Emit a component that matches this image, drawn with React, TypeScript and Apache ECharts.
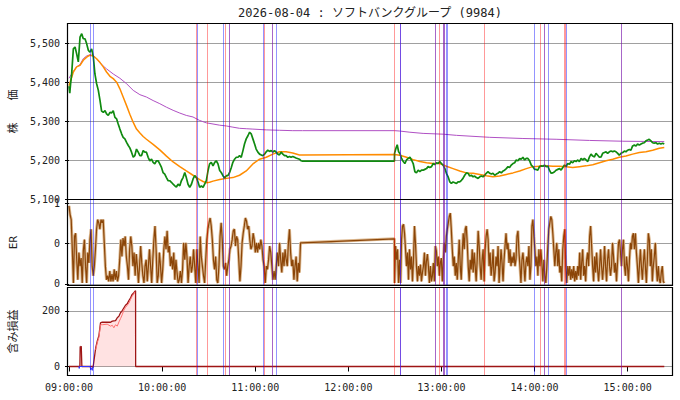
import React, { useEffect, useRef } from "react";
import * as echarts from "echarts";

const TITLE = "2026-08-04 : ソフトバンクグループ (9984)";
const X_MIN = 0;
const X_MAX = 388.9; // minutes after 09:00
const timeTickLabels = ["09:00:00", "10:00:00", "11:00:00", "12:00:00", "13:00:00", "14:00:00", "15:00:00"];
const erTickValues = [0, 0.5, 1];
const erTickLabels = ["0", "0", "1"];
const pnlTickValues = [0, 200];

// price (minutes after 09:00, yen)
const priceAM: [number, number][] = [
  [0, 5390], [0.5, 5372], [1.0, 5395], [1.7, 5420], [2.8, 5485], [3.9, 5490], [4.9, 5473], [6.0, 5452], [7.1, 5515], [8.2, 5524],
  [9.2, 5511], [10.3, 5511], [11.4, 5498], [12.5, 5481], [13.5, 5477], [14.6, 5485], [15.7, 5464], [16.7, 5421], [17.8, 5396], [18.9, 5379],
  [20.0, 5353], [21.0, 5326], [22.1, 5323], [23.2, 5327], [24.2, 5319], [25.3, 5315], [26.4, 5323], [27.4, 5321], [28.5, 5327], [29.6, 5310],
  [30.7, 5306], [31.7, 5293], [32.8, 5280], [33.9, 5268], [34.9, 5259], [36.0, 5255], [37.1, 5246], [38.2, 5238], [39.2, 5232], [40.3, 5221],
  [41.4, 5208], [42.4, 5212], [43.5, 5229], [44.6, 5221], [45.7, 5212], [46.7, 5212], [47.8, 5225], [48.9, 5221], [49.9, 5221], [51.0, 5208],
  [52.1, 5199], [53.2, 5203], [54.2, 5195], [55.3, 5191], [56.4, 5199], [57.4, 5199], [58.5, 5191], [59.6, 5182], [60.6, 5169], [61.7, 5165],
  [62.8, 5156], [63.9, 5148], [64.9, 5148], [66.0, 5144], [67.1, 5139], [68.2, 5135], [69.2, 5132], [70.3, 5139], [71.4, 5135], [72.4, 5148],
  [73.5, 5156], [74.6, 5169], [75.6, 5156], [76.7, 5139], [77.8, 5131], [78.9, 5139], [79.9, 5152], [81.0, 5161], [82.1, 5156], [83.2, 5144],
  [84.2, 5131], [85.3, 5135], [86.4, 5131], [87.4, 5139], [88.5, 5148], [89.6, 5174], [90.6, 5191], [91.7, 5195], [92.8, 5186], [93.9, 5195],
  [94.9, 5199], [96.0, 5191], [97.1, 5174], [98.1, 5169], [99.2, 5161], [100.3, 5155], [101.4, 5161], [102.4, 5161], [103.5, 5169], [104.6, 5182],
  [105.6, 5195], [106.7, 5203], [107.8, 5208], [108.9, 5208], [109.9, 5212], [111.0, 5208], [112.1, 5225], [113.1, 5242], [114.2, 5255], [115.3, 5263],
  [116.4, 5272], [117.4, 5268], [118.5, 5255], [119.6, 5242], [120.6, 5229], [121.7, 5221], [122.8, 5216], [123.9, 5214], [124.9, 5212], [126.0, 5216],
  [127.1, 5222], [128.1, 5226], [129.2, 5223], [130.3, 5225], [131.4, 5221], [132.4, 5225], [133.5, 5221], [134.6, 5216], [135.6, 5214], [136.7, 5221],
  [137.8, 5216], [138.9, 5212], [139.9, 5212], [141.0, 5208], [142.1, 5210], [143.1, 5208], [144.2, 5210], [145.3, 5208], [146.3, 5206], [148.5, 5203],
  [149.6, 5199], [150.5, 5198],
];
const priceLunch: [number, number][] = [[209.7, 5198]];
const pricePM: [number, number][] = [
  [209.8, 5218], [210.7, 5231], [211.5, 5240], [212.4, 5222], [213.2, 5218], [214.3, 5205], [215.4, 5197], [216.4, 5192], [217.5, 5201], [218.6, 5205],
  [219.7, 5208], [220.7, 5201], [221.8, 5192], [222.9, 5171], [223.9, 5168], [225.0, 5175], [226.1, 5171], [227.2, 5175], [228.2, 5175], [229.3, 5177],
  [230.4, 5179], [231.4, 5184], [232.5, 5182], [233.6, 5184], [234.7, 5192], [235.7, 5189], [236.8, 5194], [237.9, 5192], [238.9, 5197], [240.0, 5192],
  [241.1, 5188], [242.2, 5179], [243.2, 5167], [244.3, 5158], [245.4, 5145], [246.4, 5141], [247.5, 5145], [248.6, 5143], [249.7, 5141], [250.7, 5145],
  [251.8, 5145], [252.9, 5149], [253.9, 5154], [255.0, 5162], [256.1, 5168], [257.2, 5167], [258.2, 5160], [259.3, 5162], [260.4, 5158], [261.4, 5160],
  [262.5, 5156], [263.6, 5154], [264.7, 5158], [265.7, 5160], [266.8, 5158], [267.9, 5162], [268.9, 5167], [270.0, 5171], [271.1, 5167], [272.2, 5165],
  [273.2, 5167], [274.3, 5162], [275.4, 5165], [276.4, 5167], [277.5, 5171], [278.6, 5168], [279.7, 5173], [280.7, 5175], [281.8, 5179], [282.9, 5184],
  [283.9, 5182], [285.0, 5188], [286.1, 5192], [287.2, 5194], [288.2, 5201], [289.3, 5199], [290.4, 5205], [291.4, 5203], [292.5, 5208], [293.6, 5201],
  [294.7, 5205], [295.7, 5205], [296.8, 5199], [297.9, 5188], [298.9, 5184], [300.0, 5177], [301.1, 5177], [302.1, 5175], [303.2, 5184], [304.3, 5186],
  [305.4, 5185], [306.4, 5188], [307.5, 5184], [308.6, 5185], [309.6, 5175], [310.7, 5167], [311.8, 5168], [312.9, 5171], [313.9, 5175], [315.0, 5177],
  [316.1, 5179], [317.1, 5175], [318.2, 5182], [319.3, 5188], [320.4, 5185], [321.4, 5192], [322.5, 5190], [323.6, 5197], [324.6, 5194], [325.7, 5199],
  [326.8, 5197], [327.9, 5201], [328.9, 5197], [330.0, 5205], [331.1, 5201], [332.1, 5205], [333.2, 5201], [334.3, 5197], [335.4, 5209], [336.4, 5216],
  [337.5, 5211], [338.6, 5209], [339.6, 5218], [340.7, 5213], [341.8, 5208], [342.9, 5209], [343.9, 5218], [345.0, 5220], [346.1, 5222], [347.1, 5218],
  [348.2, 5222], [349.3, 5224], [350.4, 5222], [351.4, 5224], [352.5, 5222], [353.6, 5218], [354.6, 5213], [355.7, 5218], [356.8, 5220], [357.9, 5224],
  [358.9, 5222], [360.0, 5226], [361.1, 5228], [362.1, 5226], [363.2, 5237], [364.3, 5239], [365.4, 5237], [366.4, 5242], [367.5, 5239], [368.6, 5242],
  [369.6, 5244], [370.7, 5245], [371.8, 5250], [372.9, 5252], [373.9, 5254], [375.0, 5250], [376.1, 5245], [377.1, 5244], [378.2, 5245], [379.3, 5242],
  [380.4, 5244], [381.4, 5242], [382.5, 5244], [383.6, 5242],
];

// smoothed average (orange)
const emaLine: [number, number][] = [
  [0, 5391], [2.8, 5426], [4.9, 5439], [7.1, 5443], [9.2, 5456], [11.4, 5464], [13.5, 5469], [15.7, 5467], [17.8, 5460], [20.0, 5450],
  [22.1, 5439], [24.2, 5426], [26.4, 5415], [28.5, 5409], [30.7, 5400], [32.8, 5383], [34.9, 5362], [37.1, 5340], [39.2, 5318], [41.4, 5297],
  [43.5, 5280], [45.7, 5270], [47.8, 5261], [49.9, 5254], [54.2, 5241], [58.5, 5227], [62.8, 5211], [67.1, 5196], [71.4, 5184], [75.6, 5173],
  [79.9, 5162], [84.2, 5151], [86.4, 5146], [88.5, 5143], [90.6, 5144], [92.8, 5147], [97.1, 5151], [101.4, 5154], [105.6, 5156], [109.9, 5162],
  [114.2, 5173], [118.5, 5191], [122.8, 5203], [127.1, 5208], [131.4, 5216], [135.6, 5222], [139.9, 5222], [144.2, 5219], [148.5, 5214], [150.5, 5214],
  [209.8, 5215], [213.2, 5213], [217.5, 5208], [221.8, 5202], [226.1, 5197], [230.4, 5194], [234.7, 5192], [238.9, 5192], [243.2, 5185], [247.5, 5179],
  [251.8, 5173], [256.1, 5168], [260.4, 5167], [264.7, 5164], [268.9, 5161], [273.2, 5158], [277.5, 5160], [281.8, 5164], [286.1, 5168], [290.4, 5173],
  [294.7, 5179], [298.9, 5184], [303.2, 5185], [307.5, 5186], [311.8, 5185], [316.1, 5185], [320.4, 5184], [324.6, 5182], [328.9, 5184], [333.2, 5186],
  [337.5, 5189], [341.8, 5194], [346.1, 5199], [350.4, 5203], [354.6, 5208], [358.9, 5211], [363.2, 5216], [367.5, 5220], [371.8, 5222], [376.1, 5226],
  [380.4, 5231], [383.6, 5233],
];

// volume-weighted average (purple)
const vwapLine: [number, number][] = [
  [0, 5410], [2.8, 5428], [4.9, 5439], [7.1, 5445], [9.2, 5460], [11.4, 5467], [13.5, 5470], [15.7, 5468], [17.8, 5460], [20.0, 5450],
  [22.1, 5441], [24.2, 5434], [28.5, 5421], [32.8, 5410], [37.1, 5396], [41.4, 5379], [45.7, 5368], [49.9, 5362], [54.2, 5353], [58.5, 5345],
  [62.8, 5336], [67.1, 5328], [71.4, 5321], [75.6, 5315], [79.9, 5311], [84.2, 5302], [88.5, 5296], [92.8, 5293], [97.1, 5290], [101.4, 5288],
  [105.6, 5285], [109.9, 5282], [114.2, 5281], [118.5, 5280], [127.1, 5278], [135.6, 5277], [144.2, 5276], [150.5, 5276], [209.8, 5276], [213.2, 5275],
  [219.7, 5272], [228.2, 5269], [241.1, 5267], [249.7, 5264], [271.1, 5259], [292.5, 5256], [313.9, 5254], [335.4, 5251], [356.8, 5249], [383.6, 5248],
];

// ER, sampled evenly over each session
const erAMStart = 0;
const erAMEnd = 149.2;
const erAM: number[] = [
  0.97, 0.86, 0.80, 0.43, 0.01, 0.59, 0.63, 0.30, 0.05, 0.39,
  0.22, 0.32, 0.01, 0.41, 0.55, 0.22, 0.01, 0.39, 0.26, 0.55,
  0.68, 0.22, 0.10, 0.22, 0.43, 0.68, 0.80, 0.76, 0.68, 0.80,
  0.76, 0.80, 0.51, 0.22, 0.05, 0.10, 0.03, 0.16, 0.03, 0.12,
  0.03, 0.18, 0.05, 0.16, 0.03, 0.10, 0.30, 0.55, 0.34, 0.57,
  0.47, 0.59, 0.34, 0.22, 0.05, 0.43, 0.59, 0.47, 0.22, 0.39,
  0.10, 0.37, 0.22, 0.01, 0.22, 0.47, 0.26, 0.10, 0.01, 0.22,
  0.30, 0.03, 0.22, 0.43, 0.22, 0.01, 0.30, 0.55, 0.72, 0.43,
  0.01, 0.10, 0.39, 0.22, 0.01, 0.18, 0.43, 0.59, 0.43, 0.66,
  0.39, 0.47, 0.22, 0.34, 0.18, 0.39, 0.05, 0.30, 0.14, 0.01,
  0.05, 0.16, 0.01, 0.18, 0.51, 0.30, 0.51, 0.34, 0.01, 0.22,
  0.34, 0.14, 0.22, 0.43, 0.22, 0.01, 0.43, 0.22, 0.01, 0.59,
  0.34, 0.22, 0.10, 0.01, 0.30, 0.55, 0.68, 0.76, 0.82, 0.72,
  0.55, 0.30, 0.18, 0.34, 0.05, 0.01, 0.22, 0.59, 0.76, 0.55,
  0.22, 0.18, 0.26, 0.10, 0.22, 0.30, 0.43, 0.47, 0.55, 0.66,
  0.68, 0.47, 0.59, 0.55, 0.30, 0.03, 0.22, 0.51, 0.63, 0.72,
  0.82, 0.78, 0.68, 0.72, 0.55, 0.43, 0.47, 0.63, 0.55, 0.39,
  0.51, 0.39, 0.51, 0.43, 0.55, 0.47, 0.30, 0.22, 0.01, 0.22,
  0.18, 0.30, 0.47, 0.39, 0.22, 0.05, 0.16, 0.05, 0.22, 0.39,
  0.22, 0.51, 0.30, 0.14, 0.39, 0.22, 0.43, 0.30, 0.22, 0.51,
  0.68, 0.39, 0.22, 0.30, 0.05, 0.22, 0.34, 0.03, 0.26, 0.14,
  0.51,
];
const erLunch: [number, number][] = [[150.0, 0.51], [209.7, 0.56]];
const erPMStart = 209.8;
const erPMEnd = 383.6;
const erPM: number[] = [
  0.01, 0.47, 0.30, 0.43, 0.01, 0.30, 0.01, 0.55, 0.72, 0.74,
  0.63, 0.43, 0.22, 0.39, 0.05, 0.43, 0.18, 0.34, 0.03, 0.30,
  0.72, 0.51, 0.22, 0.03, 0.22, 0.10, 0.24, 0.03, 0.14, 0.22,
  0.39, 0.10, 0.28, 0.37, 0.22, 0.01, 0.22, 0.03, 0.10, 0.26,
  0.03, 0.47, 0.41, 0.22, 0.34, 0.10, 0.26, 0.32, 0.03, 0.30,
  0.51, 0.39, 0.59, 0.68, 0.76, 0.84, 0.88, 0.68, 0.43, 0.22,
  0.34, 0.10, 0.26, 0.05, 0.30, 0.55, 0.22, 0.05, 0.39, 0.63,
  0.43, 0.68, 0.72, 0.51, 0.22, 0.03, 0.30, 0.18, 0.43, 0.14,
  0.39, 0.22, 0.03, 0.30, 0.66, 0.47, 0.22, 0.05, 0.30, 0.43,
  0.03, 0.43, 0.59, 0.68, 0.55, 0.22, 0.39, 0.10, 0.22, 0.43,
  0.03, 0.14, 0.34, 0.22, 0.47, 0.01, 0.22, 0.43, 0.26, 0.03,
  0.30, 0.47, 0.63, 0.43, 0.51, 0.26, 0.43, 0.22, 0.34, 0.26,
  0.39, 0.22, 0.30, 0.59, 0.66, 0.39, 0.22, 0.01, 0.30, 0.39,
  0.22, 0.03, 0.26, 0.34, 0.22, 0.47, 0.05, 0.22, 0.72, 0.80,
  0.59, 0.43, 0.22, 0.34, 0.10, 0.43, 0.22, 0.43, 0.26, 0.03,
  0.30, 0.10, 0.01, 0.22, 0.47, 0.68, 0.76, 0.84, 0.80, 0.63,
  0.43, 0.22, 0.39, 0.51, 0.22, 0.43, 0.14, 0.22, 0.03, 0.43,
  0.59, 0.68, 0.22, 0.01, 0.22, 0.10, 0.22, 0.05, 0.18, 0.07,
  0.22, 0.03, 0.16, 0.05, 0.22, 0.10, 0.39, 0.05, 0.26, 0.43,
  0.10, 0.22, 0.03, 0.30, 0.39, 0.22, 0.59, 0.72, 0.47, 0.22,
  0.03, 0.34, 0.14, 0.39, 0.18, 0.03, 0.22, 0.43, 0.22, 0.05,
  0.22, 0.47, 0.22, 0.03, 0.30, 0.43, 0.22, 0.10, 0.22, 0.51,
  0.34, 0.14, 0.26, 0.03, 0.26, 0.51, 0.55, 0.39, 0.22, 0.43,
  0.55, 0.22, 0.10, 0.34, 0.22, 0.03, 0.30, 0.51, 0.43, 0.59,
  0.63, 0.43, 0.63, 0.39, 0.22, 0.01, 0.22, 0.43, 0.22, 0.05,
  0.26, 0.43, 0.22, 0.01, 0.30, 0.63, 0.55, 0.22, 0.43, 0.03,
  0.22, 0.34, 0.51, 0.22, 0.03, 0.22, 0.05, 0.01, 0.14, 0.22,
  0.03, 0.01,
];

// unrealized P/L
const pnlMain: [number, number][] = [
  [0, 0], [7.0, 0], [7.2, 72], [7.6, 70], [7.9, 73], [8.3, 0], [15.0, 0], [15.4, -4], [15.7, 5], [17.2, 67],
  [18.2, 91], [19.3, 112], [20.3, 157], [21.4, 159], [24.6, 159], [26.8, 159], [27.9, 163], [30.0, 165], [31.1, 175], [32.2, 181],
  [33.2, 193], [34.3, 201], [35.4, 211], [36.4, 220], [37.5, 225], [38.6, 237], [39.7, 247], [40.7, 259], [41.8, 265], [42.5, 270],
  [42.9, 272], [42.95, 0], [383.6, 0],
];
const pnlSub: [number, number][] = [
  [17.2, 60], [18.2, 85], [19.3, 105], [20.3, 150], [21.4, 150], [24.6, 152], [26.8, 145], [27.9, 148], [28.9, 139], [30.0, 150],
  [31.1, 145], [32.2, 160], [33.2, 172], [34.3, 186], [35.4, 203], [36.4, 212], [37.5, 220], [38.6, 228], [39.7, 241], [40.7, 252],
  [41.8, 261], [42.5, 268],
];
const pnlShort: [number, number][] = [
  [6.3, 0], [6.6, -7], [6.9, 0], [13.6, 0], [14.0, -12], [14.5, -5], [15.0, -14], [15.4, 0],
];

// trade signal lines (minutes, kind)
const signalLines: [number, string][] = [
  [13.5, "b"], [15.4, "b"], [82.1, "r"], [82.7, "b"], [89.0, "r"], [99.6, "b"], [100.9, "r"], [103.5, "p"],
  [125.2, "b"], [125.8, "r"], [131.1, "p"], [133.7, "b"], [209.8, "r"], [213.4, "d"], [236.3, "p"], [238.5, "r"],
  [241.1, "p"], [241.9, "p"], [242.8, "b"], [243.6, "b"], [267.4, "r"], [299.6, "b"], [303.5, "r"], [306.0, "p"],
  [308.6, "b"], [318.9, "r"], [320.0, "r"], [320.4, "b"], [355.8, "p"],
];

const signalColors: Record<string, string> = {
  r: "rgba(255,0,0,0.4)",
  b: "rgba(0,0,255,0.42)",
  p: "rgba(120,20,170,0.65)",
  d: "rgba(80,30,220,0.8)",
};

const MONO = "'DejaVu Sans Mono', 'Noto Sans CJK JP', monospace";

// panel layout (pixels)
const PLOT_LEFT = 67.5;
const PLOT_WIDTH = 605;
const panels = [
  { top: 23.5, height: 176 },
  { top: 199.5, height: 86 },
  { top: 287.5, height: 88 },
];

function evenSeries(values: number[], start: number, end: number): [number, number][] {
  const step = (end - start) / (values.length - 1);
  return values.map((v, i) => [start + i * step, v]);
}

function buildOption() {
  const priceAll = [...priceAM, ...priceLunch, ...pricePM];
  const erAll = [...evenSeries(erAM, erAMStart, erAMEnd), ...erLunch, ...evenSeries(erPM, erPMStart, erPMEnd)];

  const markLine = {
    silent: true,
    symbol: ["none", "none"],
    label: { show: false },
    emphasis: { disabled: true },
    animation: false,
    data: signalLines.map(([t, c]) => ({
      xAxis: t,
      lineStyle: { color: signalColors[c], width: 1, type: "solid" },
    })),
  };

  const labelStyle = { fontFamily: MONO, fontSize: 10, color: "#222" };
  const nameStyle = { fontFamily: MONO, fontSize: 11, color: "#222" };
  const splitLine = { show: true, lineStyle: { color: "#a0a0a0", width: 1 } };

  const xAxisBase = (i: number, showLabels: boolean) => ({
    type: "value",
    gridIndex: i,
    min: X_MIN,
    max: X_MAX,
    interval: 60,
    axisLine: { show: false },
    axisTick: { show: showLabels, length: 5, lineStyle: { color: "#000" } },
    axisLabel: {
      show: showLabels,
      ...labelStyle,
      margin: 7,
      showMaxLabel: false,
      formatter: (v: number) => timeTickLabels[Math.round(v / 60)] ?? "",
    },
    splitLine: { show: false },
  });

  const lineBase = { type: "line", showSymbol: false, symbol: "none", animation: false, silent: true };

  return {
    animation: false,
    backgroundColor: "#fff",
    graphic: [
      {
        type: "text",
        x: PLOT_LEFT + PLOT_WIDTH / 2,
        y: 12.5,
        style: {
          text: TITLE,
          fontFamily: MONO,
          fontSize: 12,
          fill: "#222",
          textAlign: "center",
          textVerticalAlign: "middle",
        },
      },
      ...panels.map((p) => ({
        type: "rect",
        silent: true,
        z: 100,
        shape: { x: PLOT_LEFT, y: p.top, width: PLOT_WIDTH, height: p.height },
        style: { fill: "none", stroke: "#000", lineWidth: 1.2 },
      })),
    ],
    grid: panels.map((p) => ({
      left: PLOT_LEFT,
      width: PLOT_WIDTH,
      top: p.top,
      height: p.height,
      show: false,
    })),
    xAxis: [xAxisBase(0, false), xAxisBase(1, false), xAxisBase(2, true)],
    yAxis: [
      {
        type: "value",
        gridIndex: 0,
        min: 5100,
        max: 5550,
        interval: 100,
        axisLine: { show: false },
        axisTick: { show: true, length: 4, lineStyle: { color: "#000" } },
        axisLabel: { ...labelStyle, margin: 9, showMaxLabel: false, formatter: (v: number) => v.toLocaleString("en-US") },
        splitLine,
        name: "株　　価",
        nameLocation: "middle",
        nameRotate: 90,
        nameGap: 50,
        nameTextStyle: nameStyle,
      },
      {
        type: "value",
        gridIndex: 1,
        min: -0.021,
        max: 1.05,
        axisLine: { show: false },
        axisTick: { show: true, length: 4, customValues: erTickValues, lineStyle: { color: "#000" } },
        axisLabel: {
          ...labelStyle,
          margin: 9,
          customValues: erTickValues,
          formatter: (v: number) => erTickLabels[erTickValues.indexOf(v)] ?? "",
        },
        splitLine,
        name: "ER",
        nameLocation: "middle",
        nameRotate: 90,
        nameGap: 50,
        nameTextStyle: nameStyle,
      },
      {
        type: "value",
        gridIndex: 2,
        min: -32.3,
        max: 283.7,
        axisLine: { show: false },
        axisTick: { show: true, length: 4, customValues: pnlTickValues, lineStyle: { color: "#000" } },
        axisLabel: { ...labelStyle, margin: 9, customValues: pnlTickValues },
        splitLine,
        name: "含み損益",
        nameLocation: "middle",
        nameRotate: 90,
        nameGap: 50,
        nameTextStyle: nameStyle,
      },
    ],
    series: [
      { ...lineBase, name: "sig0", xAxisIndex: 0, yAxisIndex: 0, data: priceAll, lineStyle: { opacity: 0 }, markLine },
      { ...lineBase, name: "vwap", xAxisIndex: 0, yAxisIndex: 0, data: vwapLine, lineStyle: { color: "#b050c4", width: 1 } },
      { ...lineBase, name: "ema", xAxisIndex: 0, yAxisIndex: 0, data: emaLine, lineStyle: { color: "#ff8c00", width: 1.5 } },
      { ...lineBase, name: "price", xAxisIndex: 0, yAxisIndex: 0, data: priceAll, lineStyle: { color: "#108a10", width: 1.7 } },

      { ...lineBase, name: "sig1", xAxisIndex: 1, yAxisIndex: 1, data: erAll, lineStyle: { opacity: 0 }, markLine },
      { ...lineBase, name: "erBand", xAxisIndex: 1, yAxisIndex: 1, data: erAll, lineStyle: { color: "#dcb88f", width: 3 } },
      { ...lineBase, name: "er", xAxisIndex: 1, yAxisIndex: 1, data: erAll, lineStyle: { color: "#8b4508", width: 1.2 } },

      { ...lineBase, name: "sig2", xAxisIndex: 2, yAxisIndex: 2, data: pnlMain, lineStyle: { opacity: 0 }, markLine },
      {
        ...lineBase,
        name: "pnl",
        xAxisIndex: 2,
        yAxisIndex: 2,
        data: pnlMain,
        lineStyle: { color: "#9e1515", width: 1.3 },
        areaStyle: { color: "rgba(255,120,120,0.3)", origin: 0 },
      },
      { ...lineBase, name: "pnlSub", xAxisIndex: 2, yAxisIndex: 2, data: pnlSub, lineStyle: { color: "#ff7070", width: 1 } },
      { ...lineBase, name: "pnlShort", xAxisIndex: 2, yAxisIndex: 2, data: pnlShort, lineStyle: { color: "#3333ff", width: 1 } },
    ],
  };
}

export default function App() {
  const ref = useRef<HTMLDivElement>(null);
  useEffect(() => {
    if (!ref.current) return;
    const chart = echarts.init(ref.current, null, { renderer: "svg" });
    chart.setOption(buildOption() as any);
    return () => chart.dispose();
  }, []);
  return (
    <div
      ref={ref}
      style={{ position: "fixed", left: 0, top: 0, width: 680, height: 400, background: "#fff" }}
    />
  );
}
